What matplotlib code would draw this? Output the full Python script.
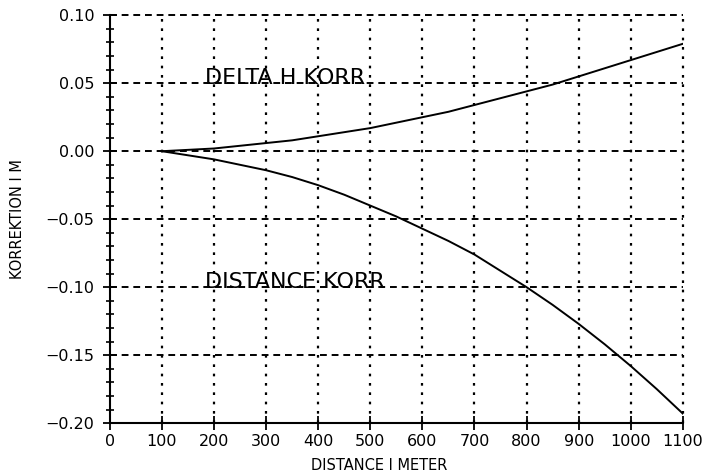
import matplotlib
matplotlib.use("Agg")
import matplotlib.pyplot as plt
from matplotlib.ticker import MultipleLocator, FuncFormatter

# Data
distance_m = [100, 150, 200, 250, 300, 350, 400, 450, 500, 550, 600, 650,
              700, 750, 800, 850, 900, 950, 1000, 1050, 1100]
delta_h_korr = [0.000, 0.001, 0.002, 0.004, 0.006, 0.008, 0.011, 0.014, 0.017, 0.021,
                0.025, 0.029, 0.034, 0.039, 0.044, 0.049, 0.055, 0.061, 0.067, 0.073, 0.079]
distance_korr = [0.000, -0.003, -0.006, -0.010, -0.014, -0.019, -0.025, -0.032, -0.040,
                 -0.048, -0.057, -0.066, -0.076, -0.088, -0.100, -0.113, -0.127, -0.142,
                 -0.158, -0.175, -0.193]
x_ticks = [0, 100, 200, 300, 400, 500, 600, 700, 800, 900, 1000, 1100]
y_ticks = [-0.20, -0.15, -0.10, -0.05, 0.00, 0.05, 0.10]

plt.rcParams['font.family'] = ['DejaVu Sans']

fig = plt.figure(figsize=(7.04, 4.76), dpi=100)
ax = fig.add_axes([0.156, 0.111, 0.814, 0.857])

ax.plot(distance_m, delta_h_korr, color='black', lw=1.4, zorder=3)
ax.plot(distance_m, distance_korr, color='black', lw=1.4, zorder=3)

ax.set_xlim(0, 1100)
ax.set_ylim(-0.20, 0.10)
ax.set_xticks(x_ticks)
ax.set_yticks(y_ticks)
ax.yaxis.set_minor_locator(MultipleLocator(0.01))
ax.yaxis.set_major_formatter(FuncFormatter(lambda v, p: f"{v:.2f}".replace('-', '\u2212')))

# grid: horizontal dashed, vertical dotted
for yv in y_ticks[1:]:
    ax.axhline(yv, color='black', lw=1.4, dashes=(3.5, 2.5), clip_on=False, zorder=1)
for xv in x_ticks[1:]:
    ax.axvline(xv, color='black', lw=1.6, dashes=(1.2, 3.0), clip_on=False, zorder=1)

ax.spines['top'].set_visible(False)
ax.spines['right'].set_visible(False)
ax.spines['left'].set_linewidth(1.5)
ax.spines['bottom'].set_linewidth(1.5)

ax.tick_params(axis='both', which='major', direction='inout', length=10, width=1.3,
               labelsize=11.5, colors='black')
ax.tick_params(axis='y', which='minor', direction='inout', length=6, width=1.2)
ax.tick_params(axis='y', which='major', pad=6)
ax.tick_params(axis='x', which='major', pad=3)

ax.text(182, 0.0495, 'DELTA H KORR', fontsize=16, ha='left', va='baseline')
ax.text(182, -0.1005, 'DISTANCE KORR', fontsize=16, ha='left', va='baseline')

ax.set_xlabel('DISTANCE I METER', fontsize=10.5)
ax.xaxis.set_label_coords(0.47, -0.085)
ax.set_ylabel('KORREKTION I M', fontsize=10.5)
ax.yaxis.set_label_coords(-0.148, 0.5)

fig.savefig('out.png', dpi=100)
